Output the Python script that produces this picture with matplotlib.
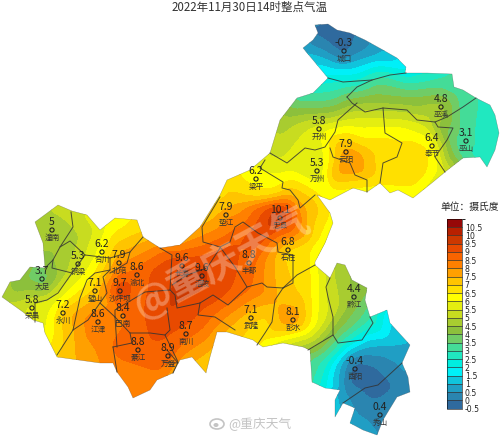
"""2022-11-30 14h temperature map of Chongqing."""
import matplotlib
matplotlib.use('Agg')
import numpy as np
import matplotlib.pyplot as plt
import matplotlib.tri as mtri
from matplotlib.colors import ListedColormap, BoundaryNorm
from matplotlib.patches import PathPatch, Ellipse
from matplotlib.path import Path

plt.rcParams['font.family'] = ['Noto Sans CJK SC', 'DejaVu Sans']
plt.rcParams['axes.unicode_minus'] = False

# stations (map position in image pixels)
names = ['城口', '巫溪', '奉节', '巫山', '开州', '云阳', '万州', '梁平', '垫江', '忠县', '石柱',
         '丰都', '涪陵', '长寿', '渝北', '北碚', '合川', '铜梁', '潼南', '大足', '荣昌', '永川',
         '璧山', '沙坪坝', '巴南', '江津', '綦江', '万盛', '南川', '武隆', '彭水', '黔江', '酉阳', '秀山']
temps = [-0.3, 4.8, 6.4, 3.1, 5.8, 7.9, 5.3, 6.2, 7.9, 10.1, 6.8,
         8.8, 9.6, 9.6, 8.6, 7.9, 6.2, 5.3, 5, 3.7, 5.8, 7.2,
         7.1, 9.7, 8.4, 8.6, 8.8, 8.9, 8.7, 7.1, 8.1, 4.4, -0.4, 0.4]
st_x = [344, 441, 432, 466, 319, 346, 317, 256, 226, 280, 288,
        249, 202, 182, 137, 119, 102, 78, 52, 42, 32, 63,
        95, 120, 123, 98, 138, 168, 186, 251, 293, 354, 355, 380]
st_y = [51, 107, 146, 141, 129, 152, 171, 179, 215, 218, 250,
        263, 276, 266, 275, 263, 252, 264, 230, 279, 308, 313,
        291, 291, 316, 322, 350, 356, 334, 318, 320, 297, 369, 415]

# extra readings of the colour field between stations
ex_x = [327, 350, 385, 405, 318, 305, 330, 345, 380, 440, 410, 370, 460, 490, 498, 490, 470, 452, 445, 425,
        300, 285, 275, 330, 350, 400, 413, 440, 415, 385, 360, 370, 335, 350, 330, 290, 265,
        230, 270, 290, 310, 330, 320, 305, 262, 260, 298, 275, 253, 277, 267, 263, 307, 317, 312,
        330, 340, 365, 335, 370, 387, 395, 330, 312, 320, 340, 350, 365, 375, 405, 410, 385, 355,
        45, 43, 60, 75, 90, 110, 135, 10, 30, 15, 45, 55, 60, 75, 90, 110, 125, 140, 155, 175, 205, 210, 220, 200,
        150, 180, 165, 195, 210, 225, 235, 150, 175, 210, 240, 165, 150, 120]
ex_y = [30, 70, 60, 72, 45, 48, 75, 85, 78, 80, 95, 100, 95, 110, 135, 165, 160, 140, 160, 120,
        100, 120, 150, 105, 120, 130, 150, 170, 195, 180, 170, 150, 175, 190, 195, 165, 165,
        190, 195, 195, 205, 215, 240, 245, 215, 235, 220, 200, 287, 303, 313, 340, 293, 323, 337,
        280, 265, 290, 330, 320, 315, 345, 360, 360, 385, 400, 360, 375, 385, 350, 390, 430, 420,
        240, 260, 210, 240, 230, 225, 225, 290, 290, 300, 320, 300, 340, 350, 350, 365, 385, 400, 385, 370, 370, 350, 335, 320,
        240, 240, 250, 235, 220, 195, 205, 270, 300, 295, 290, 320, 340, 350]
ex_v = [-0.3, 1.5, 1.2, 2, 0.3, 0.7, 2, 2.8, 3.2, 3, 3.8, 4.3, 3.3, 2.8, 2.7, 2.7, 2.9, 3.5, 4.8, 5.2,
        3.3, 4.6, 5.2, 3.7, 5.6, 6.2, 6.9, 6, 6.3, 6.6, 7.8, 7, 7.6, 6.3, 6.1, 5.7, 5.8,
        7, 6.6, 7.5, 7.4, 6.5, 6.4, 6.8, 9, 9.5, 8.5, 8, 8.5, 7.5, 7, 6.5, 6.8, 6, 5.5,
        5.2, 4.6, 4.2, 4.2, 3, 1.6, 1, 2.5, 3.3, 2.5, 0.8, 0.2, -0.5, -0.4, 0.9, 0.3, 0.5, 0.6,
        4.8, 4.2, 5, 4.8, 5.3, 6.1, 6.6, 4.4, 4.5, 4.6, 5.8, 5.8, 6.8, 7.5, 7.8, 8.2, 8, 8.4, 8.2, 7.6, 7, 7.5, 7.5, 8.9,
        7.5, 7.5, 8.5, 7.8, 7.4, 6.8, 7.5, 9, 9.6, 9.4, 8.8, 9.5, 9, 8.7]

# second pass of readings, where the first picture came out too pale
more_x = [315, 340, 345, 360, 380, 310, 395, 355, 400, 420, 360, 350,
          340, 333, 320, 370, 355, 345, 350, 40, 35, 45,
          155, 170, 190, 215, 165, 225, 210, 135, 100, 130,
          270, 285, 268, 295, 305, 245, 240]
more_y = [32, 28, 45, 50, 55, 40, 62, 73, 165, 170, 157, 170,
          375, 367, 370, 345, 345, 340, 380, 275, 268, 285,
          310, 290, 270, 260, 335, 280, 310, 295, 340, 340,
          225, 213, 208, 230, 215, 225, 240]
more_v = [-0.2, -0.4, -0.3, 0.3, 1, 0.4, 1.4, 1.8, 7, 6.8, 7.8, 7.8,
          0.9, 1.6, 3, 1, 1.7, 2.8, -0.2, 3.3, 3.5, 3.8,
          9.3, 9.5, 9.6, 9.4, 9, 9.2, 8.8, 8.7, 8.3, 8.7,
          9.8, 10.1, 9.2, 8.5, 7.5, 8.5, 9]

# frame around the map so the triangulation covers it all
fr_x = [0, 120, 250, 290, 380, 500, 500, 500, 500, 380, 250, 120, 0, 0, 0]
fr_y = [0, 0, 0, 20, 0, 0, 150, 300, 436, 436, 436, 436, 436, 300, 150]
fr_v = [5, 5, 2, 0.5, 0, 2.5, 2.8, 1, 0.4, 0.4, 6, 8, 6, 5, 5]

levels = np.arange(-0.5, 11.5, 0.5)
colors = ['#2f6a9e', '#2a85b0', '#209ec4', '#10c4dc', '#00f0f8', '#00eee0', '#20e8c0', '#44dc98',
          '#70cc66', '#8cc03c', '#a8cc30', '#c8dc20', '#e4ee10', '#ffff00', '#ffe000', '#ffc400',
          '#ffa000', '#ff8000', '#f86400', '#e84a00', '#cc3800', '#b82000', '#960808']
bar_ticks = np.arange(-0.5, 11, 0.5)

# outline of the municipality
outline = [(315, 25), (328, 24), (337, 30), (350, 33), (365, 40), (383, 50), (397, 58), (406, 67), (405, 73),
           (427, 73), (452, 74), (454, 87), (463, 90), (476, 98), (490, 105), (495, 115), (499, 133), (495, 150),
           (487, 167), (480, 157), (463, 158), (445, 172), (433, 182), (413, 198), (398, 190), (390, 193),
           (380, 183), (367, 192), (353, 188), (330, 200), (317, 195), (330, 213), (333, 223), (325, 243),
           (315, 262), (315, 265), (330, 278), (337, 263), (345, 265), (352, 280), (367, 288), (365, 300),
           (370, 317), (387, 310), (390, 323), (410, 345), (402, 363), (408, 377), (410, 392), (397, 397),
           (383, 420), (377, 435), (363, 430), (350, 423), (355, 408), (343, 403), (335, 417), (335, 400),
           (340, 390), (325, 388), (312, 382), (310, 350), (303, 347), (283, 343), (263, 347), (257, 343),
           (253, 340), (227, 332), (217, 332), (210, 357), (206, 373), (192, 357), (180, 360), (173, 373),
           (157, 380), (150, 390), (133, 398), (128, 387), (117, 372), (113, 363), (100, 363), (57, 357),
           (45, 333), (43, 323), (33, 320), (23, 312), (2, 297), (10, 282), (20, 280), (30, 267), (45, 268),
           (43, 243), (35, 222), (58, 205), (72, 211), (87, 215), (100, 230), (115, 218), (137, 220),
           (143, 237), (160, 248), (180, 245), (200, 227), (220, 195), (227, 180), (250, 170), (270, 153),
           (280, 120), (297, 98), (313, 93), (328, 78), (303, 48), (313, 40), (318, 33)]

# district boundaries
borders = [
    [(328, 78), (343, 82), (372, 80), (390, 75), (406, 73)],
    [(347, 97), (357, 87), (372, 80)],
    [(347, 97), (352, 103), (365, 112), (383, 108), (407, 110), (417, 120), (435, 122), (447, 117), (463, 107), (476, 98)],
    [(357, 103), (338, 120), (335, 132), (325, 147), (315, 150), (305, 148), (287, 163), (270, 153)],
    [(383, 108), (385, 133), (402, 143), (397, 157), (383, 163), (380, 183)],
    [(435, 122), (438, 127), (453, 128), (447, 140), (435, 157), (445, 172)],
    [(330, 148), (333, 157), (350, 163), (355, 175), (367, 180), (367, 192)],
    [(265, 160), (260, 168), (283, 182), (282, 188), (290, 190), (298, 200), (300, 208), (315, 195)],
    [(220, 197), (202, 227), (203, 242), (220, 247), (230, 242), (235, 227), (243, 222), (258, 233),
     (277, 243), (278, 252), (293, 255), (293, 283), (283, 288), (275, 300), (272, 322), (265, 333), (257, 345)],
    [(283, 288), (297, 275), (315, 265)],
    [(220, 247), (235, 267), (247, 287), (228, 305), (213, 295), (200, 303), (177, 308), (175, 295), (170, 290),
     (172, 255), (160, 248)],
    [(220, 248), (207, 268), (187, 275), (172, 285)],
    [(247, 287), (262, 283), (267, 287), (283, 288)],
    [(200, 303), (198, 315), (215, 317), (235, 330)],
    [(167, 308), (170, 330), (165, 335), (178, 362), (173, 373)],
    [(165, 335), (150, 333), (130, 333), (115, 317), (100, 303), (107, 293), (103, 277), (110, 270), (110, 258)],
    [(115, 317), (115, 310), (145, 292), (170, 290)],
    [(117, 347), (115, 317)],
    [(113, 347), (132, 343), (130, 333)],
    [(113, 347), (117, 372)],
    [(167, 350), (178, 363), (163, 362)],
    [(71, 212), (73, 227), (60, 247), (70, 241), (85, 255), (110, 258), (130, 252), (143, 237)],
    [(60, 247), (53, 260), (45, 268)],
    [(53, 260), (52, 268), (72, 273), (58, 293), (47, 300), (35, 303), (35, 322)],
    [(72, 273), (85, 255)],
    [(110, 270), (95, 273), (87, 280), (80, 298), (73, 330), (57, 355)],
    [(100, 303), (88, 320), (73, 330)],
    [(130, 252), (127, 263), (110, 273)],
    [(343, 403), (365, 388), (378, 385), (402, 363)],
    [(308, 350), (333, 335), (338, 343), (362, 340), (373, 323), (370, 317)],
    [(333, 335), (333, 317), (328, 297), (326, 287), (330, 278)],
]

fig = plt.figure(figsize=(5, 4.36), dpi=100)
ax = fig.add_axes([0, 0, 1, 1])
ax.set_xlim(0, 500)
ax.set_ylim(436, 0)
ax.axis('off')

# colour field: readings spread over a pixel grid, then blurred to get the soft bands
all_x = np.array(st_x + ex_x + more_x + fr_x, dtype=float)
all_y = np.array(st_y + ex_y + more_y + fr_y, dtype=float)
all_v = np.array(temps + ex_v + more_v + fr_v, dtype=float)
tri = mtri.Triangulation(all_x, all_y)
gx, gy = np.meshgrid(np.arange(0, 501), np.arange(0, 437))
field = np.asarray(mtri.LinearTriInterpolator(tri, all_v)(gx, gy).filled(3.0))

sigma = 5
kx = np.arange(-3 * sigma, 3 * sigma + 1)
kernel = np.exp(-kx**2 / (2 * sigma**2))
kernel /= kernel.sum()
pad = np.pad(field, 3 * sigma, mode='edge')
pad = np.apply_along_axis(lambda r: np.convolve(r, kernel, mode='same'), 0, pad)
pad = np.apply_along_axis(lambda r: np.convolve(r, kernel, mode='same'), 1, pad)
field = pad[3 * sigma:-3 * sigma, 3 * sigma:-3 * sigma]

cmap = ListedColormap(colors)
cmap.set_under(colors[0])
cmap.set_over(colors[-1])
norm = BoundaryNorm(levels, cmap.N)
cs = ax.contourf(gx, gy, field, levels=levels, cmap=cmap, norm=norm, extend='both')
clip = PathPatch(Path(outline + [outline[0]]), transform=ax.transData, fc='none', ec='none')
ax.add_patch(clip)
cs.set_clip_path(clip)

# boundaries
ol = np.array(outline + [outline[0]])
ax.plot(ol[:, 0], ol[:, 1], color='#3a3a3a', lw=0.3, alpha=0.5)
for b in borders:
    b = np.array(b)
    ax.plot(b[:, 0], b[:, 1], color='#333333', lw=0.7, alpha=0.85)

# stations
ax.scatter(st_x, st_y, s=9, facecolors='none', edgecolors='#222222', linewidths=0.8, zorder=4)
for x, y, t, n in zip(st_x, st_y, temps, names):
    ax.text(x, y - 3, f'{t:g}', ha='center', va='bottom', fontsize=7.5, color='#222222', zorder=5)
    ax.text(x, y + 4, n, ha='center', va='top', fontsize=5.5, color='#333333', zorder=5)

# watermark
ax.text(222, 262, '@重庆天气', rotation=28, rotation_mode='anchor', ha='center', va='center',
        fontsize=28, fontweight='bold', color='white', alpha=0.3, zorder=6)
ax.text(260, 424, '@重庆天气', ha='center', va='center', fontsize=9.2, color='#c4c4c4', zorder=6)
ax.add_patch(Ellipse((217, 424), 14, 10, fc='none', ec='#c4c4c4', lw=1.2, zorder=6))
ax.add_patch(Ellipse((216, 425), 5, 4, fc='#c4c4c4', ec='none', zorder=6))

ax.text(250, 7, '2022年11月30日14时整点气温', ha='center', va='center', fontsize=8.3, color='#333333')
ax.text(470, 207, '单位：摄氏度', ha='center', va='center', fontsize=7, color='#222222')

# legend
cax = fig.add_axes([447 / 500, 1 - 408.5 / 436, 15 / 500, 189.5 / 436])
sm = plt.cm.ScalarMappable(norm=norm, cmap=cmap)
cb = fig.colorbar(sm, cax=cax, ticks=bar_ticks, drawedges=True, spacing='uniform')
cb.ax.set_yticklabels([f'{t:g}' for t in bar_ticks], fontsize=5.6, color='#222222', family='DejaVu Sans')
cb.ax.tick_params(length=0, pad=2)
cb.outline.set_linewidth(0.4)
cb.dividers.set_color('#333333')
cb.dividers.set_linewidth(0.5)

fig.savefig('out.png', dpi=100, facecolor='white')
plt.close()
